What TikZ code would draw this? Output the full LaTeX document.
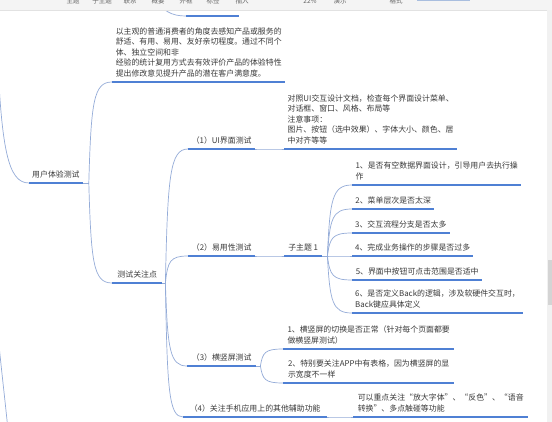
\documentclass[tikz,border=0pt]{standalone}
\usepackage{fontspec}
\newfontfamily\cjk{Noto Sans CJK SC}
\usetikzlibrary{calc}
\definecolor{txt}{HTML}{3A3A3A}
\definecolor{uln}{HTML}{4F80D4}
\definecolor{brn}{HTML}{94ACD8}
\definecolor{barbg}{HTML}{F4F4F4}
\definecolor{barln}{HTML}{E2E2E2}
\definecolor{bartxt}{HTML}{666666}
\definecolor{scrbg}{HTML}{F1F1F1}
\definecolor{scrth}{HTML}{D4D4D4}
\definecolor{srch}{HTML}{A9BEDF}
\begin{document}
\begin{tikzpicture}[x=1pt,y=-1pt,
  topic/.style={anchor=south west, inner xsep=3pt, inner ysep=5pt,
    font=\cjk\fontsize{7.9}{10.5}\selectfont, text=txt, align=left},
  uline/.style={draw=uln, line width=1.6pt},
  branch/.style={draw=brn, line width=0.7pt,
    to path={let \p1=(\tikztostart), \p2=(\tikztotarget) in
      .. controls ({\x1+0.1*(\x2-\x1)},{\y1+0.8*(\y2-\y1)}) and ({\x1+0.2*(\x2-\x1)},\y2) .. (\tikztotarget)}},
  tbtext/.style={font=\cjk\fontsize{6.5}{7}\selectfont, text=bartxt, inner sep=0pt},
]
\useasboundingbox (0,0) rectangle (552,422);
\fill[white] (0,0) rectangle (552,422);

% nodes
\node[topic, minimum width=53pt] (A) at (29,183) {用户体验测试};
\node[topic, minimum width=173pt] (B) at (112,82) {以主观的普通消费者的角度去感知产品或服务的\\舒适、有用、易用、友好亲切程度。通过不同个\\体、独立空间和非\\经验的统计复用方式去有效评价产品的体验特性\\提出修改意见提升产品的潜在客户满意度。};
\node[topic, minimum width=50pt] (C) at (112,283) {测试关注点};
\node[topic, minimum width=67pt] (D) at (188,149) {（1）UI界面测试};
\node[topic, minimum width=67pt] (E) at (188,256) {（2）易用性测试};
\node[topic, minimum width=69pt] (F) at (187,366) {（3）横竖屏测试};
\node[topic, minimum width=144pt] (G) at (183,417) {（4）关注手机应用上的其他辅助功能};
\node[topic, minimum width=173pt] (H) at (284,149) {对照UI交互设计文档，检查每个界面设计菜单、\\对话框、窗口、风格、布局等\\注意事项：\\图片、按钮（选中效果）、字体大小、颜色、居\\中对齐等等};
\node[topic, minimum width=38pt] (I) at (284,256) {子主题 1};
\node[topic, minimum width=169pt] (J1) at (352,185) {1、是否有空数据界面设计，引导用户去执行操\\作};
\node[topic, minimum width=82pt] (J2) at (352,209) {2、菜单层次是否太深};
\node[topic, minimum width=94pt] (J3) at (352,233) {3、交互流程分支是否太多};
\node[topic, minimum width=121pt] (J4) at (352,256) {4、完成业务操作的步骤是否过多};
\node[topic, minimum width=130pt] (J5) at (352,280) {5、界面中按钮可点击范围是否适中};
\node[topic, minimum width=170pt] (J6) at (352,313) {6、是否定义Back的逻辑，涉及软硬件交互时，\\Back键应具体定义};
\node[topic, minimum width=171pt] (K1) at (283,349) {1、横竖屏的切换是否正常（针对每个页面都要\\做横竖屏测试）};
\node[topic, minimum width=171pt] (K2) at (283,383) {2、特别要关注APP中有表格，因为横竖屏的显\\示宽度不一样};
\node[topic, minimum width=175pt] (L) at (353,417) {可以重点关注“放大字体”、“反色”、“语音\\转换”、多点触碰等功能};

% junctions
\coordinate (ja) at ($(A.south east)+(6,0)$);
\coordinate (jc) at ($(C.south east)+(3,0)$);
\coordinate (ji) at ($(I.south east)+(5,0)$);
\coordinate (jf) at ($(F.south east)+(4,0)$);

% off-screen parents
\coordinate (offA) at (-3,40);
\coordinate (offB) at (-1,345);
\coordinate (offB2) at (8,430);
\coordinate (offT) at (150,-8);
\coordinate (t0) at (186,16);
\coordinate (t1) at (239,16);

% connectors
\draw[branch] (offA) .. controls (1,150) and (8,183) .. (A.south west);
\draw[branch] (offB) .. controls (2,375) and (5,400) .. (offB2);
\draw[branch] (offT) .. controls (162,12) and (172,16) .. (t0);
\draw[branch] (A.south east) -- (ja);
\draw[branch] (ja) to (B.south west);
\draw[branch] (ja) to (C.south west);
\draw[branch] (C.south east) -- (jc);
\foreach \nd in {D,E,F,G} {\draw[branch] (jc) to (\nd.south west);}
\draw[branch] (D.south east) to (H.south west);
\draw[branch] (E.south east) to (I.south west);
\draw[branch] (I.south east) -- (ji);
\foreach \nd in {J1,J2,J3,J4,J5,J6} {\draw[branch] (ji) to (\nd.south west);}
\draw[branch] (F.south east) -- (jf);
\draw[branch] (jf) to (K1.south west);
\draw[branch] (jf) to (K2.south west);
\draw[branch] (G.south east) to (L.south west);

% underlines
\foreach \nd in {A,B,C,D,E,F,G,H,I,J1,J2,J3,J4,J5,J6,K1,K2,L}
  {\draw[uline] (\nd.south west) -- (\nd.south east);}
\draw[uline] (t0) -- (t1);

% toolbar (cut off at top)
\fill[barbg] (0,0) rectangle (552,10);
\draw[barln, line width=0.6pt] (0,10) -- (552,10);
\node[tbtext] (tb1) at (73,1) {主题};
\node[tbtext] (tb2) at (102,1) {子主题};
\node[tbtext] (tb3) at (130,1) {联系};
\node[tbtext] (tb4) at (158,1) {概要};
\node[tbtext] (tb5) at (186,1) {外框};
\node[tbtext] (tb6) at (213,1) {标签};
\node[tbtext] (tb7) at (242,1) {插入};
\node[tbtext] (tb8) at (310,1) {22\%};
\node[tbtext] (tb9) at (340,1) {演示};
\node[tbtext] (tb10) at (396,1) {格式};
\coordinate (s0) at (417,0.8);
\coordinate (s1) at (470,0.8);
\draw[srch, line width=1pt] (s0) -- (s1);

% scrollbar
\fill[scrbg] (547,10.5) rectangle (552,422);
\fill[scrth] (547.5,260) rectangle (551.5,305);
\end{tikzpicture}
\end{document}
